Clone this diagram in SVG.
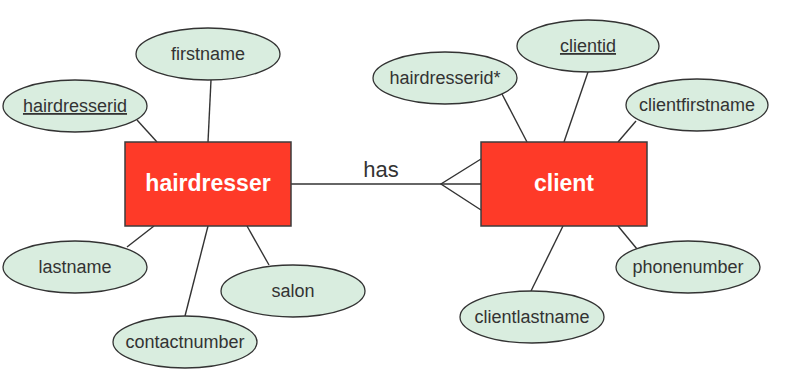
<svg xmlns="http://www.w3.org/2000/svg" width="787" height="381" viewBox="0 0 787 381">
<style>
.ent{fill:#fe3a28;stroke:#3c3c3c;stroke-width:1.5}
.et{font-family:"Liberation Sans",Arial,sans-serif;font-size:23px;font-weight:bold;fill:#fff;text-anchor:middle}
.att{fill:#d9eddf;stroke:#333;stroke-width:1.3}
.at{font-family:"Liberation Sans",Arial,sans-serif;font-size:18px;fill:#333;text-anchor:middle}
.key{text-decoration:underline}
.ln{stroke:#333;stroke-width:1.4;fill:none}
.lbl{font-family:"Liberation Sans",Arial,sans-serif;font-size:22px;fill:#333;text-anchor:middle}
</style>
<rect width="787" height="381" fill="#fff"/>
<g id="connectors">
<line class="ln" x1="137" y1="120" x2="157" y2="142"/>
<line class="ln" x1="211" y1="80" x2="208" y2="142"/>
<line class="ln" x1="127" y1="247" x2="154" y2="226"/>
<line class="ln" x1="185" y1="316" x2="208" y2="226"/>
<line class="ln" x1="269" y1="265" x2="247" y2="226"/>
<line class="ln" x1="502" y1="94" x2="527" y2="142"/>
<line class="ln" x1="588" y1="72" x2="564" y2="142"/>
<line class="ln" x1="636" y1="121" x2="618" y2="142"/>
<line class="ln" x1="531" y1="291" x2="563" y2="226"/>
<line class="ln" x1="637" y1="249" x2="618" y2="226"/>
<g id="rel-has">
<line class="ln" x1="291" y1="184" x2="481" y2="184"/>
<polyline class="ln" points="481,159 441,184 481,210"/>
<text class="lbl" x="381" y="177">has</text>
</g>
</g>
<g id="hairdresser">
<rect class="ent" x="125" y="142" width="166" height="84"/>
<text class="et" x="208" y="191">hairdresser</text>
</g>
<g id="client">
<rect class="ent" x="481" y="142" width="166" height="84"/>
<text class="et" x="564" y="191">client</text>
</g>
<g id="attr-hairdresserid">
<ellipse class="att" cx="75" cy="106" rx="72" ry="26"/>
<text class="at key" x="75" y="112">hairdresserid</text>
</g>
<g id="attr-firstname">
<ellipse class="att" cx="208" cy="54" rx="72" ry="26"/>
<text class="at" x="208" y="60">firstname</text>
</g>
<g id="attr-lastname">
<ellipse class="att" cx="75" cy="267" rx="72" ry="26"/>
<text class="at" x="75" y="273">lastname</text>
</g>
<g id="attr-contactnumber">
<ellipse class="att" cx="185" cy="342" rx="72" ry="26"/>
<text class="at" x="185" y="348">contactnumber</text>
</g>
<g id="attr-salon">
<ellipse class="att" cx="293" cy="291" rx="72" ry="26"/>
<text class="at" x="293" y="297">salon</text>
</g>
<g id="attr-hairdresserid-fk">
<ellipse class="att" cx="445" cy="78" rx="72" ry="26"/>
<text class="at" x="445" y="84">hairdresserid*</text>
</g>
<g id="attr-clientid">
<ellipse class="att" cx="588" cy="46" rx="71" ry="26"/>
<text class="at key" x="588" y="52">clientid</text>
</g>
<g id="attr-clientfirstname">
<ellipse class="att" cx="697" cy="105" rx="71" ry="26"/>
<text class="at" x="697" y="111">clientfirstname</text>
</g>
<g id="attr-clientlastname">
<ellipse class="att" cx="532" cy="317" rx="72" ry="26"/>
<text class="at" x="532" y="323">clientlastname</text>
</g>
<g id="attr-phonenumber">
<ellipse class="att" cx="688" cy="267" rx="72" ry="26"/>
<text class="at" x="688" y="273">phonenumber</text>
</g>
</svg>
